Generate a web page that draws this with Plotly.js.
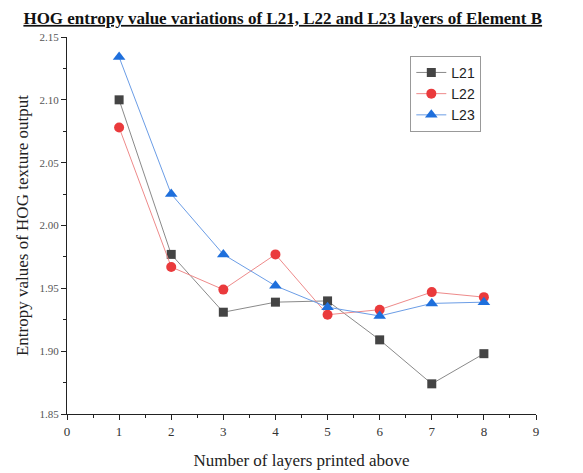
<!DOCTYPE html>
<html>
<head>
<meta charset="utf-8">
<script src="https://cdn.plot.ly/plotly-3.0.1.min.js"></script>
<style>html,body{margin:0;padding:0;background:#fff;}#chart{width:583px;height:473px;}</style>
</head>
<body>
<div id="chart"></div>
<script>
var layersAbove = [1, 2, 3, 4, 5, 6, 7, 8];
var L21 = [2.100, 1.977, 1.931, 1.939, 1.940, 1.909, 1.874, 1.898];
var L22 = [2.078, 1.967, 1.949, 1.977, 1.929, 1.933, 1.947, 1.943];
var L23 = [2.134, 2.025, 1.977, 1.952, 1.935, 1.928, 1.938, 1.939];
var seriesNames = ['L21', 'L22', 'L23'];

var traces = [
  {x: layersAbove, y: L21, name: seriesNames[0], mode: 'lines+markers', type: 'scatter',
   line: {color: '#8a8a8a', width: 1}, marker: {symbol: 'square', size: 9, color: '#444444'}},
  {x: layersAbove, y: L22, name: seriesNames[1], mode: 'lines+markers', type: 'scatter',
   line: {color: '#ee8a8a', width: 1}, marker: {symbol: 'circle', size: 10, color: '#ea3a3c'}},
  {x: layersAbove, y: L23, name: seriesNames[2], mode: 'lines+markers', type: 'scatter',
   line: {color: '#6b9de6', width: 1}, marker: {symbol: 'triangle-up', size: 11, color: '#1e6fdc'}}
];

var layout = {
  width: 583, height: 473,
  margin: {l: 67, r: 47, t: 37, b: 59},
  paper_bgcolor: '#ffffff', plot_bgcolor: '#ffffff',
  showlegend: true,
  title: {
    text: '<u>HOG entropy value variations of L21, L22 and L23 layers of Element B</u>',
    font: {family: 'Liberation Serif', size: 17, color: '#111111', weight: 'bold'},
    x: 0.485, xref: 'container', xanchor: 'center',
    y: 0.962, yref: 'container', yanchor: 'middle'
  },
  xaxis: {
    range: [0, 9], dtick: 1, tick0: 0,
    showgrid: false, zeroline: false, showline: true, linecolor: '#222', linewidth: 1,
    ticks: 'outside', ticklen: 5, tickcolor: '#222',
    minor: {dtick: 0.5, ticks: 'outside', ticklen: 3, tickcolor: '#222', showgrid: false},
    tickfont: {family: 'Liberation Serif', size: 13, color: '#333'},
    title: {text: 'Number of layers printed above', font: {family: 'Liberation Serif', size: 17, color: '#222'}, standoff: 16}
  },
  yaxis: {
    range: [1.85, 2.15], dtick: 0.05, tick0: 1.85, tickformat: '.2f',
    showgrid: false, zeroline: false, showline: true, linecolor: '#222', linewidth: 1,
    ticks: 'outside', ticklen: 5, tickcolor: '#222',
    minor: {dtick: 0.025, ticks: 'outside', ticklen: 3, tickcolor: '#222', showgrid: false},
    tickfont: {family: 'Liberation Serif', size: 11, color: '#555'},
    title: {text: 'Entropy values of HOG texture output', font: {family: 'Liberation Serif', size: 17, color: '#222'}, standoff: 6}
  },
  legend: {
    x: 0.732, y: 0.95, xanchor: 'left', yanchor: 'top',
    bordercolor: '#999', borderwidth: 1, bgcolor: '#fff',
    font: {family: 'Liberation Sans', size: 14, color: '#222'},
    tracegroupgap: 0, itemwidth: 30
  }
};

Plotly.newPlot('chart', traces, layout, {displayModeBar: false, staticPlot: true});
</script>
</body>
</html>
